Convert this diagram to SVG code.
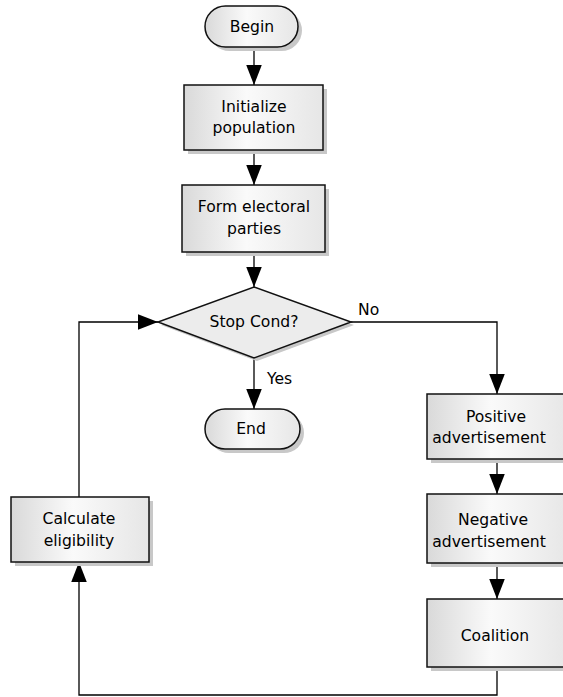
<svg xmlns="http://www.w3.org/2000/svg" width="563" height="697" viewBox="0 0 563 697">
<defs>
<linearGradient id="g" x1="0" y1="0" x2="1" y2="0">
<stop offset="0" stop-color="#d9d9d9"/>
<stop offset="0.45" stop-color="#fafafa"/>
<stop offset="1" stop-color="#e6e6e6"/>
</linearGradient>
<marker id="arr" markerUnits="userSpaceOnUse" markerWidth="20" markerHeight="16" viewBox="0 0 18 14" refX="18" refY="7" orient="auto">
<path d="M0,0 L18,7 L0,14 Z" fill="#000"/>
</marker>
</defs>
<style>
.sh{fill:#c8c8c8;stroke:none}
.bx{fill:url(#g);stroke:#111;stroke-width:1.5}
.dm{fill:#ececec;stroke:#111;stroke-width:1.5}
.t{font-family:"DejaVu Sans",Verdana,sans-serif;font-size:15.6px;fill:#000;text-anchor:middle}
.lb{font-family:"DejaVu Sans",Verdana,sans-serif;font-size:15.6px;fill:#000}
.c{fill:none;stroke:#000;stroke-width:1.3}
</style>
<g id="connectors">
<path class="c" d="M254,47 V85" marker-end="url(#arr)"/>
<path class="c" d="M254,150 V185" marker-end="url(#arr)"/>
<path class="c" d="M254,252 V287" marker-end="url(#arr)"/>
<path class="c" d="M254,358 V409" marker-end="url(#arr)"/>
<path class="c" d="M351,322 H497 V394" marker-end="url(#arr)"/>
<path class="c" d="M497,459 V494" marker-end="url(#arr)"/>
<path class="c" d="M497,563 V599" marker-end="url(#arr)"/>
<path class="c" d="M497,667 V695 H79 V562" marker-end="url(#arr)"/>
<path class="c" d="M79,497 V322 H158" marker-end="url(#arr)"/>
<text class="lb" x="358" y="315">No</text>
<text class="lb" x="267" y="384">Yes</text>
</g>
<g id="begin">
<rect class="sh" x="209" y="10" width="93" height="41" rx="20.5"/>
<rect class="bx" x="205" y="6" width="93" height="41" rx="20.5"/>
<text class="t" x="252" y="32">Begin</text>
</g>
<g id="init">
<rect class="sh" x="188" y="89" width="139" height="65"/>
<rect class="bx" x="184" y="85" width="139" height="65"/>
<text class="t" x="254" y="112">Initialize</text>
<text class="t" x="254" y="133">population</text>
</g>
<g id="form">
<rect class="sh" x="186" y="189" width="143" height="67"/>
<rect class="bx" x="182" y="185" width="143" height="67"/>
<text class="t" x="254" y="212">Form electoral</text>
<text class="t" x="254" y="234">parties</text>
</g>
<g id="stop">
<polygon class="sh" points="257,290 354,325 257,361 161,325"/>
<polygon class="dm" points="254,287 351,322 254,358 158,322"/>
<text class="t" x="254" y="327">Stop Cond?</text>
</g>
<g id="end">
<rect class="sh" x="209" y="413" width="95" height="40" rx="20"/>
<rect class="bx" x="205" y="409" width="95" height="40" rx="20"/>
<text class="t" x="251" y="434">End</text>
</g>
<g id="positive">
<rect class="sh" x="431" y="398" width="143" height="65"/>
<rect class="bx" x="427" y="394" width="143" height="65"/>
<text class="t" x="496" y="422">Positive</text>
<text class="t" x="489" y="443">advertisement</text>
</g>
<g id="negative">
<rect class="sh" x="431" y="498" width="143" height="69"/>
<rect class="bx" x="427" y="494" width="143" height="69"/>
<text class="t" x="493" y="525">Negative</text>
<text class="t" x="489" y="547">advertisement</text>
</g>
<g id="coalition">
<rect class="sh" x="431" y="603" width="143" height="68"/>
<rect class="bx" x="427" y="599" width="143" height="68"/>
<text class="t" x="495" y="641">Coalition</text>
</g>
<g id="calc">
<rect class="sh" x="15" y="501" width="138" height="65"/>
<rect class="bx" x="11" y="497" width="138" height="65"/>
<text class="t" x="79" y="524">Calculate</text>
<text class="t" x="79" y="546">eligibility</text>
</g>
</svg>
